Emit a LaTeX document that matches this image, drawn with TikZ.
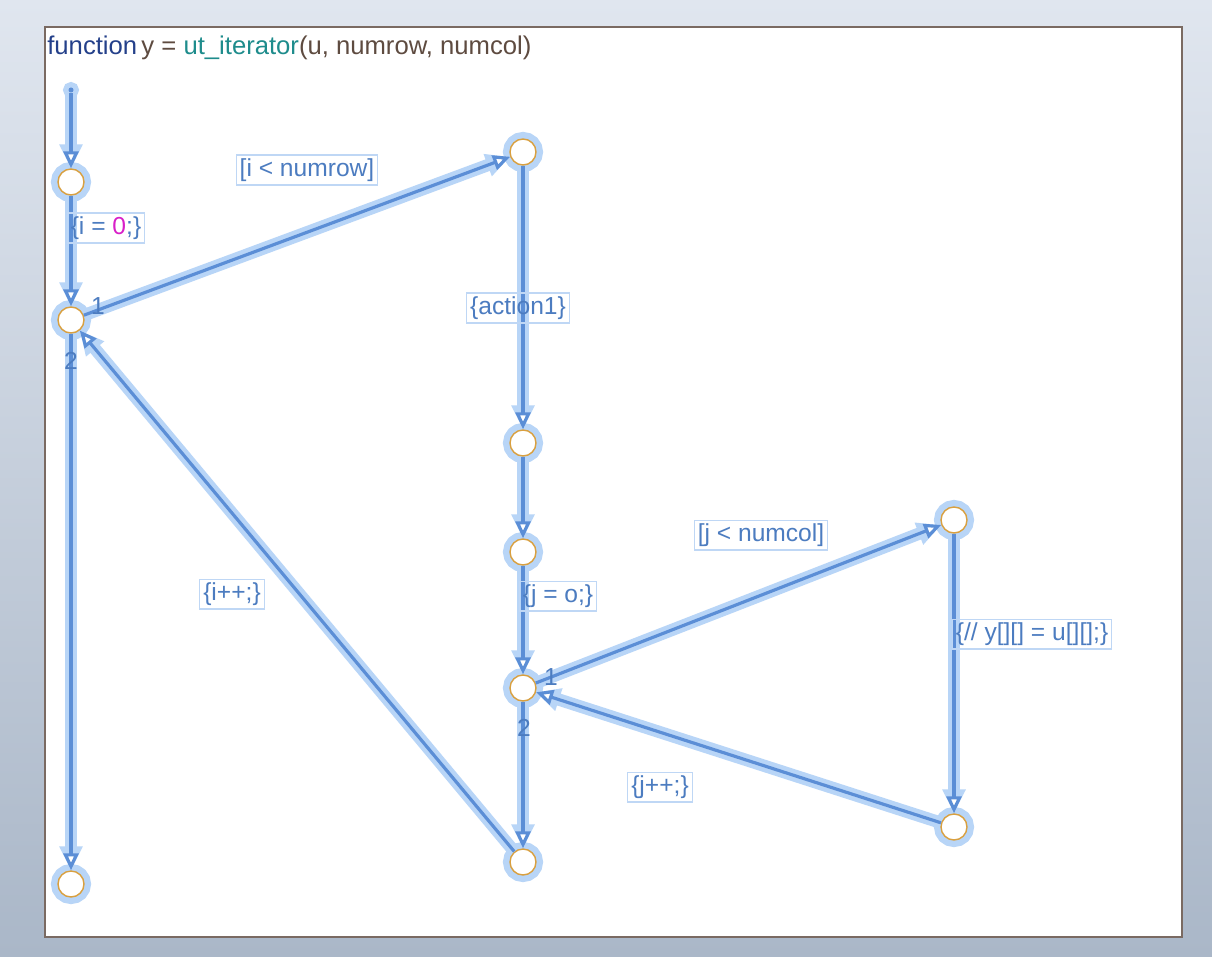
\documentclass[tikz,border=0pt]{standalone}
\usepackage{fontspec}
\setmainfont{Liberation Sans}
\usetikzlibrary{arrows.meta}

\definecolor{bgtop}{HTML}{E0E6EF}
\definecolor{bgbot}{HTML}{AAB7C8}
\definecolor{framecol}{HTML}{7A6A62}
\definecolor{wire}{HTML}{5B8ED6}
\definecolor{glow}{HTML}{B8D5F7}
\definecolor{ring}{HTML}{D9A040}
\definecolor{labelblue}{HTML}{4C7CC0}
\definecolor{labelbox}{HTML}{BFD7F5}
\definecolor{kwblue}{HTML}{24408A}
\definecolor{fnteal}{HTML}{1E8C8C}
\definecolor{argbrown}{HTML}{5E4B40}
\definecolor{zeropink}{HTML}{D81FC8}

\tikzset{
  junc/.style={circle, draw=ring, fill=white, line width=0.8pt, minimum size=0.52cm, inner sep=0pt,
    preaction={draw=glow, line width=8pt}},
  startdot/.style={circle, fill=wire, minimum size=0.1cm, inner sep=0pt,
    preaction={draw=glow, line width=6pt}},
  glowline/.style={draw=glow, line width=7pt, -{Triangle[length=0.48cm, width=0.44cm]}},
  wireline/.style={draw=wire, line width=1.8pt, -{Triangle[length=0.34cm, width=0.3cm, fill=white]}},
  act/.style={draw=labelbox, line width=0.6pt, text=labelblue, inner sep=2pt,
    font=\fontsize{14}{16}\selectfont},
  branch/.style={text=labelblue, inner sep=1pt, font=\fontsize{14}{16}\selectfont}
}
% transition: glow pass, then the wire itself
\newcommand{\trans}[2]{\draw[glowline] (#1) -- (#2); \draw[wireline] (#1) -- (#2);}

\begin{document}
\begin{tikzpicture}[x=0.02cm, y=-0.02cm]
    \useasboundingbox (0,0) rectangle (1212,956);
    % Background and chart frame
    \shade[top color=bgtop, bottom color=bgbot] (0,0) rectangle (1212,956);
    \draw[framecol, fill=white, line width=1.2pt] (45,27) rectangle (1182,937);
    \node[anchor=base west, inner sep=0pt, font=\fontsize{14.6}{16}\selectfont] (title) at (47,55)
        {\textcolor{kwblue}{function}\,\textcolor{argbrown}{y =} \textcolor{fnteal}{ut\_iterator}\textcolor{argbrown}{(u, numrow, numcol)}};
    % Junctions
    \node[startdot] (start) at (71,90) {};
    \node[junc] (init) at (71,182) {};
    \node[junc] (rowtest) at (71,320) {};
    \node[junc] (rowbody) at (523,152) {};
    \node[junc] (rowact) at (523,443) {};
    \node[junc] (colinit) at (523,552) {};
    \node[junc] (coltest) at (523,688) {};
    \node[junc] (colbody) at (954,520) {};
    \node[junc] (colinc) at (954,827) {};
    \node[junc] (coldone) at (523,862) {};
    \node[junc] (rowdone) at (71,884) {};
    % Transitions
    \trans{start}{init}
    \trans{init}{rowtest}
    \trans{rowtest}{rowbody}
    \trans{rowbody}{rowact}
    \trans{rowact}{colinit}
    \trans{colinit}{coltest}
    \trans{coltest}{colbody}
    \trans{colbody}{colinc}
    \trans{colinc}{coltest}
    \trans{coltest}{coldone}
    \trans{coldone}{rowtest}
    \trans{rowtest}{rowdone}
    % Labels
    \node[act] (initlbl) at (106,228) {\{i = \textcolor{zeropink}{0};\}};
    \node[act] (rowlbl) at (307,170) {[i < numrow]};
    \node[act] (actlbl) at (518,308) {\{action1\}};
    \node[act] (collbl) at (761,535) {[j < numcol]};
    \node[act] (jinitlbl) at (558,596) {\{j = o;\}};
    \node[act] (copylbl) at (1032,634) {\{// y[][] = u[][];\}};
    \node[act] (iinclbl) at (232,594) {\{i++;\}};
    \node[act] (jinclbl) at (660,787) {\{j++;\}};
    % Execution order
    \node[branch] (rowone) at (98,306) {1};
    \node[branch] (rowtwo) at (71,361) {2};
    \node[branch] (colone) at (551,677) {1};
    \node[branch] (coltwo) at (524,728) {2};
\end{tikzpicture}
\end{document}
